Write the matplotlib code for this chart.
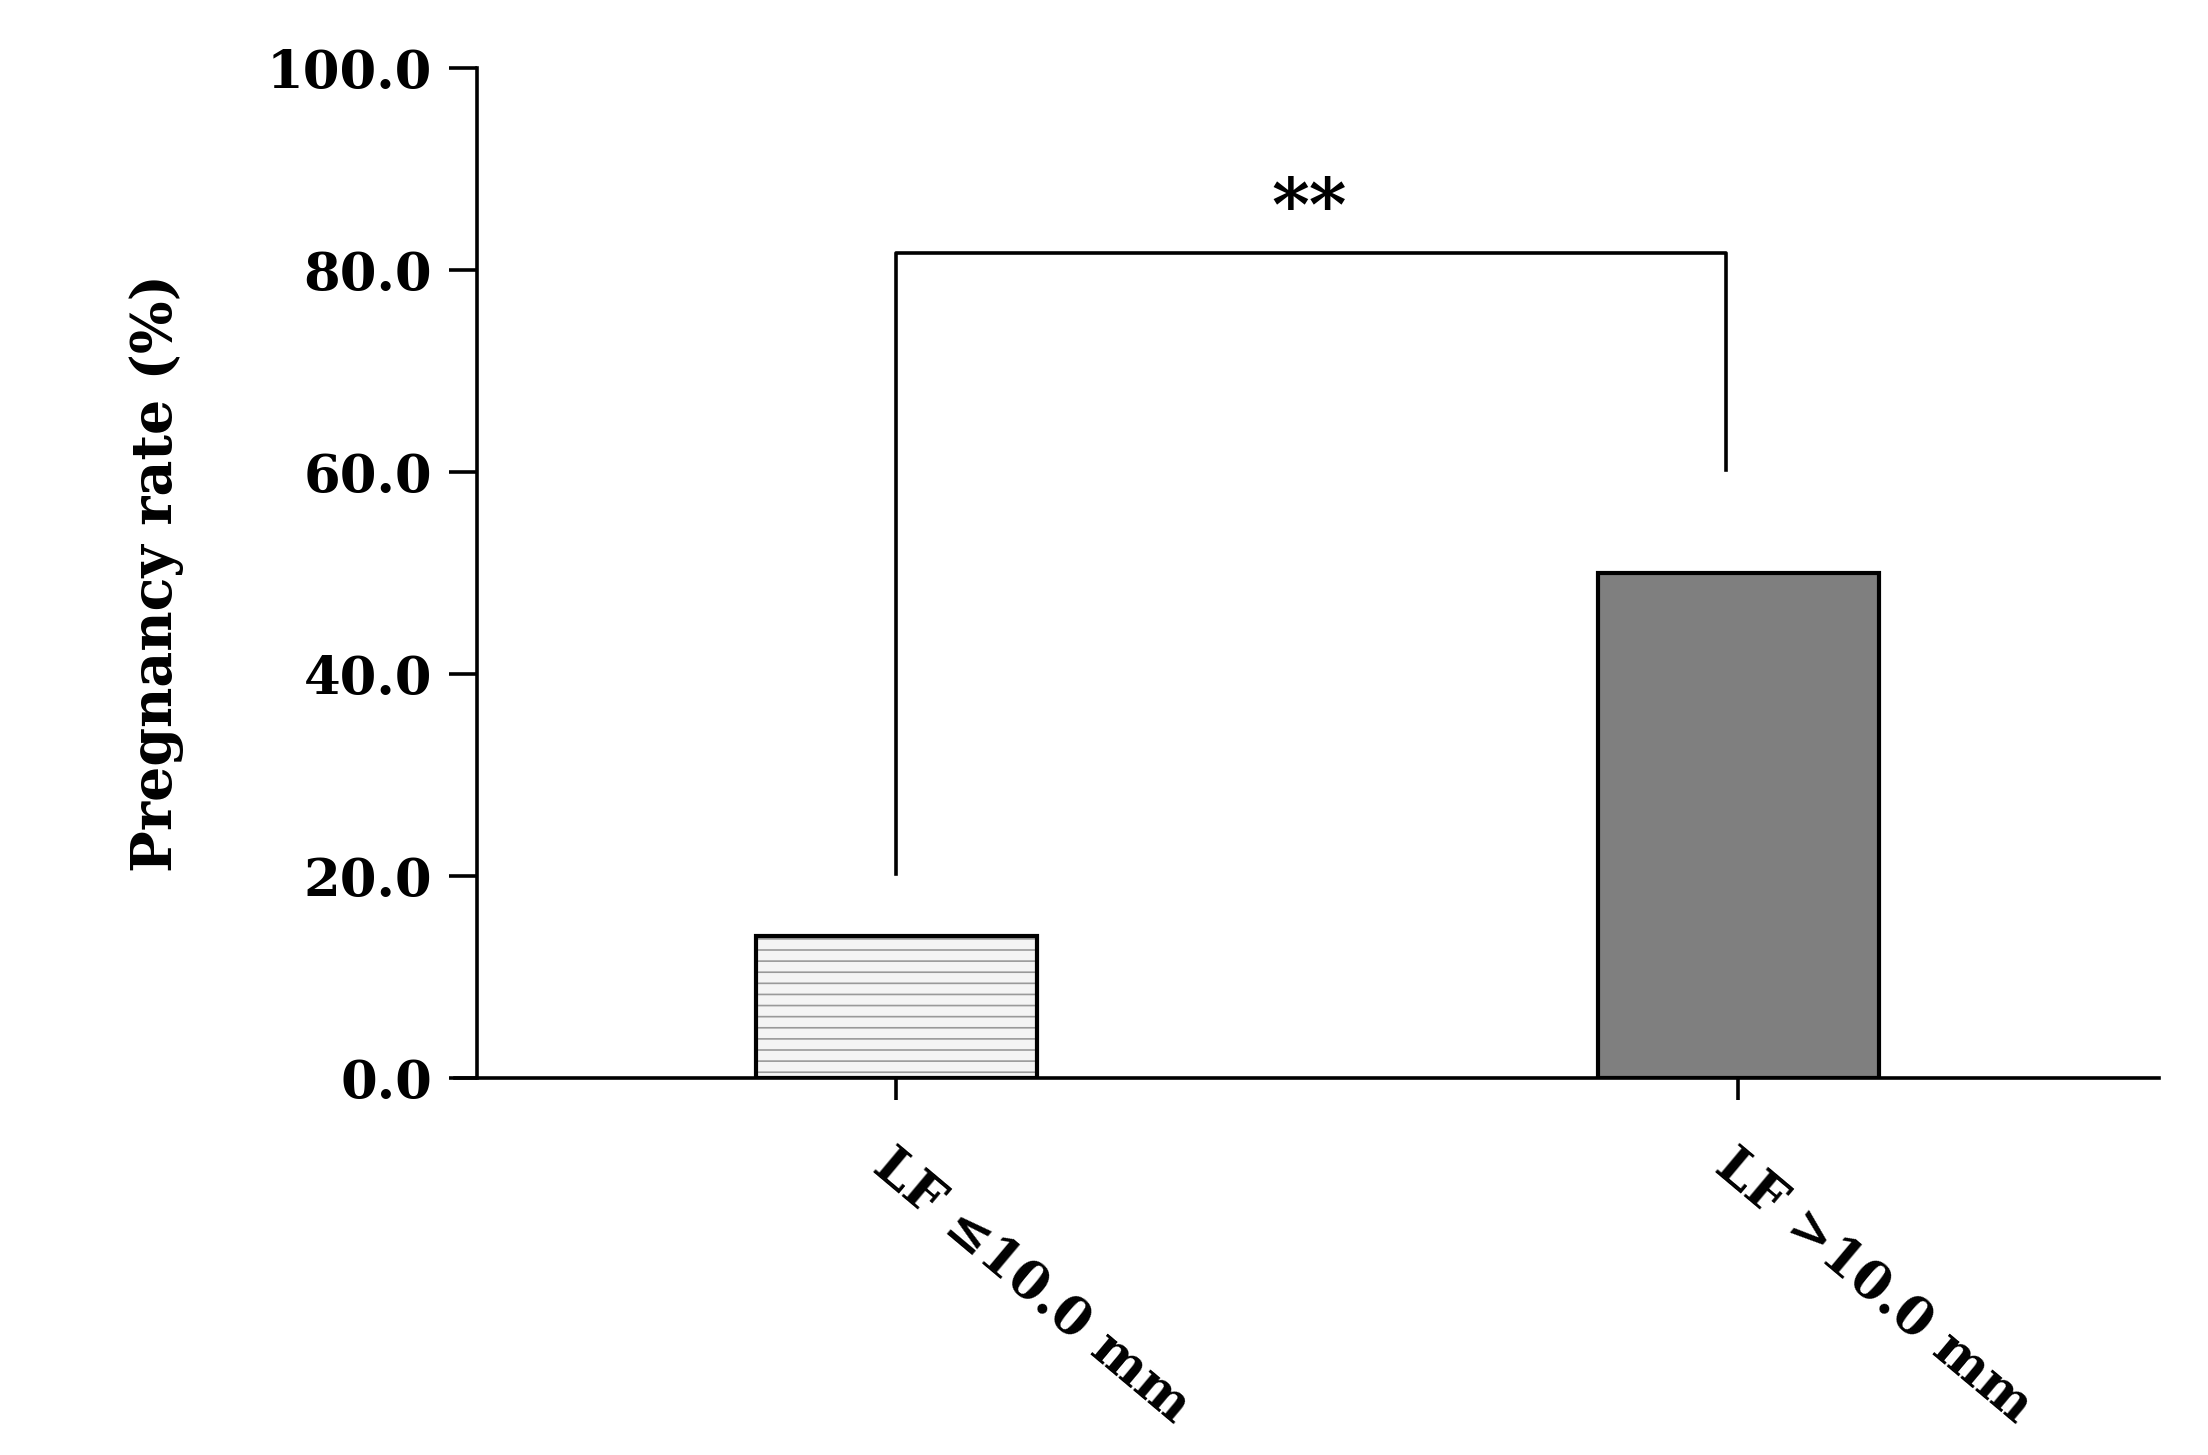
import matplotlib
matplotlib.use("Agg")
import matplotlib.pyplot as plt

categories = ["LF ≤10.0 mm", "LF >10.0 mm"]
values = [14.1, 50.0]
yticks = [0, 20, 40, 60, 80, 100]

plt.rcParams['font.family'] = ['DejaVu Serif']
plt.rcParams['font.weight'] = 'bold'
plt.rcParams['hatch.linewidth'] = 0.6

fig = plt.figure(figsize=(11.04, 7.275), dpi=200)
ax = fig.add_axes([0.206, 0.259, 0.772, 0.694])
x = [0, 1]
w = 0.334
ax.bar(x[0], values[0], width=w, color='#f4f4f4', edgecolor='#999999', hatch='---', linewidth=0, zorder=2)
ax.bar(x[0], values[0], width=w, fill=False, edgecolor='black', linewidth=1.5, zorder=3)
ax.bar(x[1], values[1], width=w, color='#7f7f7f', edgecolor='black', linewidth=1.5, zorder=3)

ax.set_xlim(-0.524, 1.50)
ax.set_ylim(0, 100)
ax.spines['left'].set_position(('data', -0.498))
ax.spines['top'].set_visible(False)
ax.spines['right'].set_visible(False)
for s in ['left', 'bottom']:
    ax.spines[s].set_linewidth(1.3)
ax.set_yticks(yticks)
ax.set_yticklabels([f"{v:.1f}" for v in yticks], fontsize=19, fontweight='bold')
ax.set_xticks(x)
ax.set_xticklabels(categories, fontsize=19, fontweight='bold', rotation=-40, ha='left', va='top', rotation_mode='anchor')
ax.tick_params(axis='y', length=10, width=1.3, pad=6)
ax.tick_params(axis='x', length=8, width=1.3, pad=14)
ax.set_ylabel("Pregnancy rate (%)", fontsize=20, fontweight='bold', labelpad=30)

# significance bracket
ax.plot([0, 0, 0.985, 0.985], [20.2, 81.7, 81.7, 60.2], color='black', lw=1.3)
ax.text(0.49, 82.5, "**", ha='center', va='bottom', fontsize=26, fontweight='bold')

fig.savefig("out.png", dpi=200)
